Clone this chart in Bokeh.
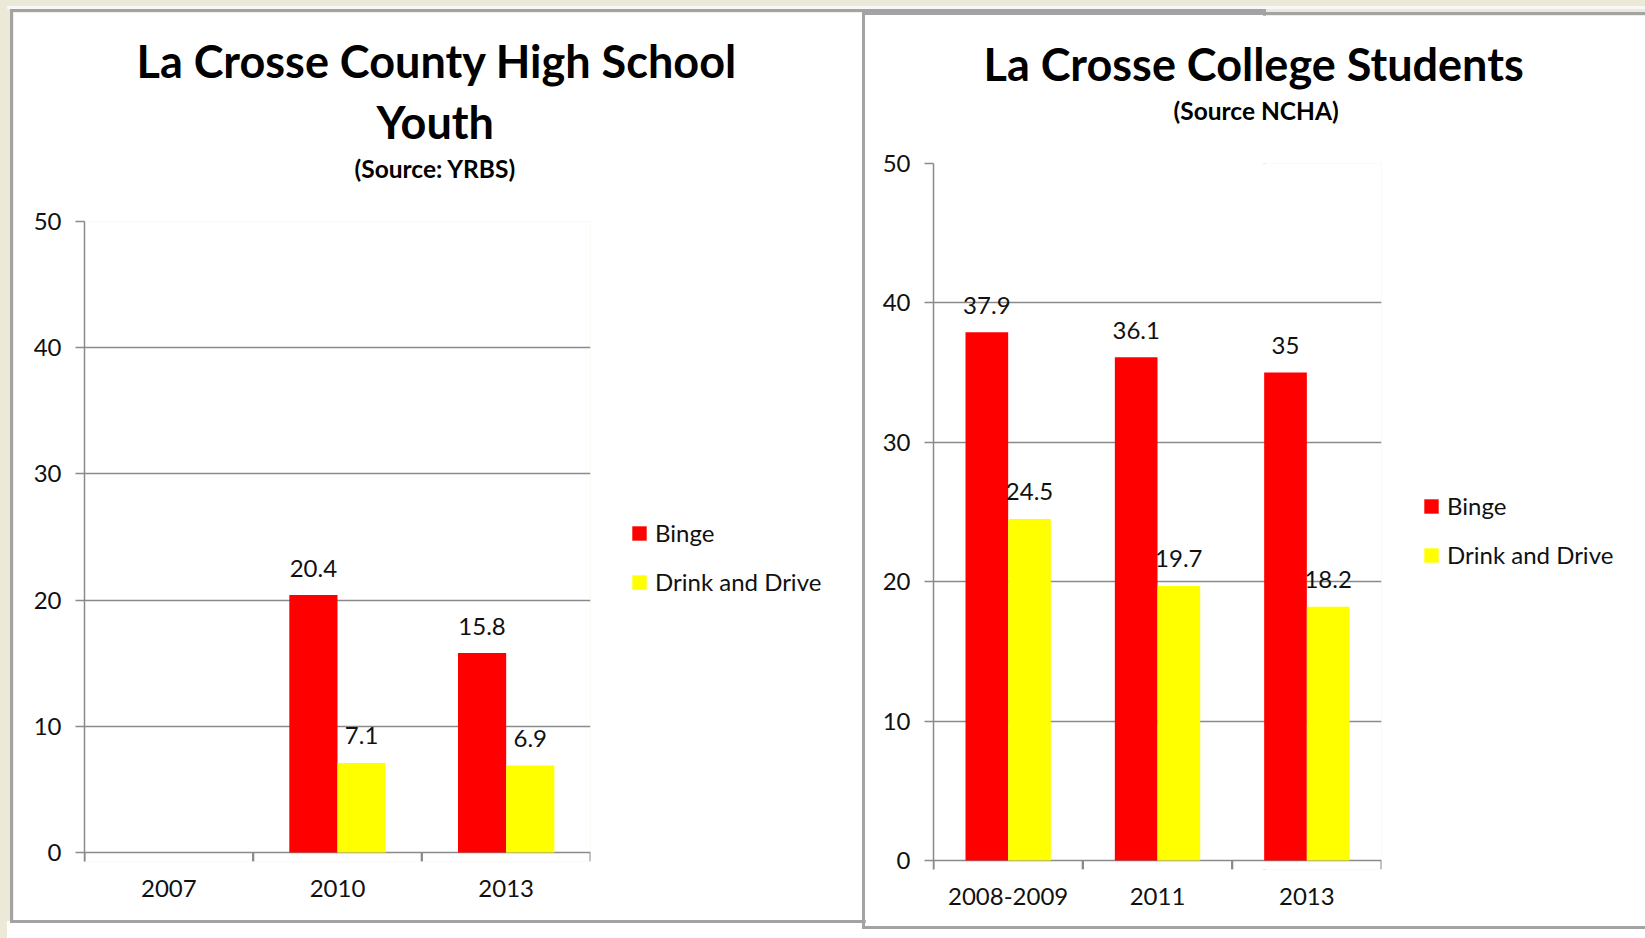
from bokeh.plotting import figure
from bokeh.models import (ColumnDataSource, FactorRange, Range1d, FixedTicker, Legend,
                          LegendItem, Title, GlobalInlineStyleSheet)
from bokeh.transform import dodge
from bokeh.core.properties import value
from bokeh.embed import file_html
from bokeh.resources import INLINE

# ---------------- data ----------------
hs_years = ["2007", "2010", "2013"]
hs_binge = [None, 20.4, 15.8]
hs_drive = [None, 7.1, 6.9]

col_years = ["2008-2009", "2011", "2013"]
col_binge = [37.9, 36.1, 35]
col_drive = [24.5, 19.7, 18.2]

series_names = ["Binge", "Drink and Drive"]
series_colors = ["#FF0000", "#FFFF00"]
y_ticks = [0, 10, 20, 30, 40, 50]
y_max = 50

hs_title = ["La Crosse County High School", "Youth"]
hs_source = "(Source: YRBS)"
col_title = ["La Crosse College Students"]
col_source = "(Source NCHA)"

FONT = "Lato"
TXT = "#111111"
GRID = "#8a8a8a"
NAN = float("nan")
TICK = 9  # px length of the category boundary ticks


def fmt(v):
    return "" if v is None else f"{v:g}"


def make_chart(cats, binge, drive, titles, source, g):
    src = ColumnDataSource(dict(
        cat=cats,
        binge=[NAN if v is None else v for v in binge],
        drive=[NAN if v is None else v for v in drive],
        binge_lbl=[fmt(v) for v in binge],
        drive_lbl=[fmt(v) for v in drive],
    ))
    fh = g["fh"] + TICK
    y_min = -TICK * y_max / (fh - TICK)
    p = figure(x_range=FactorRange(factors=cats), y_range=Range1d(y_min, y_max),
               frame_width=g["fw"], frame_height=fh,
               min_border_left=g["ml"], min_border_right=g["mr"],
               min_border_top=g["mt"], min_border_bottom=g["mb"],
               output_backend="svg", toolbar_location=None,
               background_fill_color="white", border_fill_color="white")
    p.outline_line_color = None
    p.xgrid.visible = False
    p.ygrid.grid_line_color = GRID
    p.ygrid.grid_line_width = 1.5
    p.ygrid.ticker = FixedTicker(ticks=y_ticks)

    yax = p.yaxis[0]
    yax.ticker = FixedTicker(ticks=y_ticks)
    yax.axis_line_color = GRID
    yax.axis_line_width = 1.5
    yax.major_tick_line_color = GRID
    yax.major_tick_line_width = 1.5
    yax.major_tick_out = 9
    yax.major_tick_in = 0
    yax.minor_tick_line_color = None
    yax.major_label_standoff = 14
    yax.major_label_text_font = FONT
    yax.major_label_text_font_size = "24px"
    yax.major_label_text_color = TXT

    xax = p.xaxis[0]
    xax.axis_line_color = None
    xax.major_tick_line_color = None
    xax.major_tick_out = 0
    xax.major_tick_in = 0
    xax.major_label_standoff = g["cs"]
    xax.major_label_text_font = FONT
    xax.major_label_text_font_size = "24px"
    xax.major_label_text_color = TXT

    # Excel-style tick marks on the category boundaries
    for off in (-0.5, 0.5):
        p.segment(x0=dodge("cat", off, range=p.x_range), x1=dodge("cat", off, range=p.x_range),
                  y0=0, y1=y_min, source=src, line_color=GRID, line_width=2)

    w = 0.2857
    r1 = p.vbar(x=dodge("cat", -w / 2, range=p.x_range), top="binge", width=w, source=src,
                fill_color=series_colors[0], line_color=None)
    r2 = p.vbar(x=dodge("cat", w / 2, range=p.x_range), top="drive", width=w, source=src,
                fill_color=series_colors[1], line_color=None)
    for col, lbl, off in (("binge", "binge_lbl", -w / 2), ("drive", "drive_lbl", w / 2)):
        p.text(x=dodge("cat", off, range=p.x_range), y=col, text=lbl, source=src,
               text_align="center", text_baseline="middle", y_offset=-27,
               text_font=value(FONT), text_font_size="24px", text_color=TXT)

    legend = Legend(items=[LegendItem(label=series_names[0], renderers=[r1]),
                           LegendItem(label=series_names[1], renderers=[r2])],
                    location=(g["lx"], g["ly"]), orientation="vertical",
                    border_line_color=None, background_fill_alpha=0,
                    padding=0, margin=0, spacing=20,
                    glyph_width=18, glyph_height=18, label_standoff=7,
                    label_height=29,
                    label_text_font=FONT, label_text_font_size="24px",
                    label_text_color=TXT)
    p.add_layout(legend, "right")

    # titles (stacked upward from the plot): spacer, subtitle, title lines
    p.add_layout(Title(text=" ", standoff=24, text_font=FONT, text_font_size="10px"), "above")
    p.add_layout(Title(text=source, align="left", offset=g["off"][0], standoff=2,
                       text_font=FONT, text_font_style="bold", text_font_size="24.5px",
                       text_color="#000000"), "above")
    lines = list(titles)
    k = len(lines)
    for i in range(k - 1, 0, -1):
        p.add_layout(Title(text=lines[i], align="left", offset=g["off"][i + 1],
                           standoff=g["so"][i],
                           text_font=FONT, text_font_style="bold", text_font_size="45px",
                           text_color="#000000"), "above")
    p.title.text = lines[0]
    p.title.align = "left"
    p.title.offset = g["off"][1]
    p.title.standoff = g["so"][0]
    p.title.text_font = FONT
    p.title.text_font_style = "bold"
    p.title.text_font_size = "45px"
    p.title.text_color = "#000000"
    return p


# off: [subtitle, title line 1, title line 2] left offsets; so: standoffs of title lines
g1 = dict(fw=506, fh=631, ml=71, mr=268, mt=209, mb=59, cs=18,
          lx=40, ly=265, off=[270, 52, 292], so=[7, 3])
g2 = dict(fw=448, fh=697, ml=68, mr=264, mt=148, mb=57, cs=18,
          lx=41, ly=300, off=[240, 50], so=[3])

p1 = make_chart(hs_years, hs_binge, hs_drive, hs_title, hs_source, g1)
p2 = make_chart(col_years, col_binge, col_drive, col_title, col_source, g2)

p1.styles = {"position": "absolute", "left": "10px", "top": "9px",
             "border": "3px solid #a3a3a3"}
p2.styles = {"position": "absolute", "left": "862px", "top": "12px",
             "border": "3px solid #a3a3a3", "border-right": "none"}

css = GlobalInlineStyleSheet(css=(
    "html, body {margin:0; padding:0; overflow:hidden;"
    " background: linear-gradient(to right, #ECE9D8 0 7px, transparent 7px),"
    " linear-gradient(to bottom, #ECE9D8 0 6px, #F8F8F8 6px 9px, #ECE9D8 9px 921px, #FFFFFF 921px);}"))
p1.stylesheets = [css]

open("out.html", "w").write(file_html([p1, p2], INLINE))
